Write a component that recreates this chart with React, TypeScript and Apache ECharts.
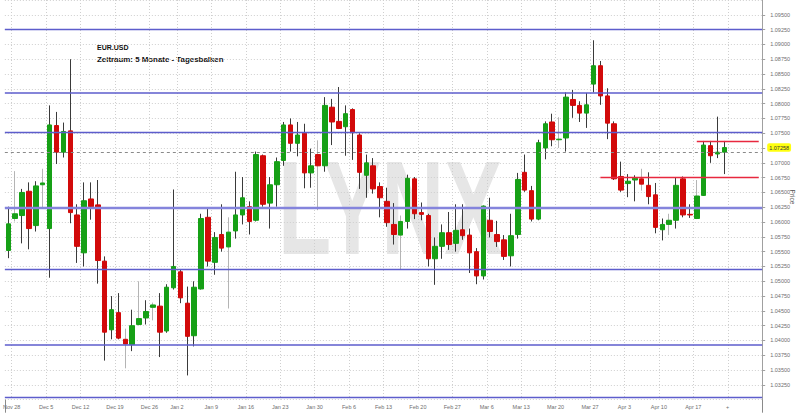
import React, { useEffect, useRef } from "react";
import * as echarts from "echarts";

// Trading days (daily bars) - last five are empty future slots
const tradingDays = [
  "2016-11-25",
  "2016-11-28", "2016-11-29", "2016-11-30", "2016-12-01", "2016-12-02",
  "2016-12-05", "2016-12-06", "2016-12-07", "2016-12-08", "2016-12-09",
  "2016-12-12", "2016-12-13", "2016-12-14", "2016-12-15", "2016-12-16",
  "2016-12-19", "2016-12-20", "2016-12-21", "2016-12-22", "2016-12-23",
  "2016-12-27", "2016-12-28", "2016-12-29", "2016-12-30",
  "2017-01-02", "2017-01-03", "2017-01-04", "2017-01-05", "2017-01-06",
  "2017-01-09", "2017-01-10", "2017-01-11", "2017-01-12", "2017-01-13",
  "2017-01-16", "2017-01-17", "2017-01-18", "2017-01-19", "2017-01-20",
  "2017-01-23", "2017-01-24", "2017-01-25", "2017-01-26", "2017-01-27",
  "2017-01-30", "2017-01-31", "2017-02-01", "2017-02-02", "2017-02-03",
  "2017-02-06", "2017-02-07", "2017-02-08", "2017-02-09", "2017-02-10",
  "2017-02-13", "2017-02-14", "2017-02-15", "2017-02-16", "2017-02-17",
  "2017-02-20", "2017-02-21", "2017-02-22", "2017-02-23", "2017-02-24",
  "2017-02-27", "2017-02-28", "2017-03-01", "2017-03-02", "2017-03-03",
  "2017-03-06", "2017-03-07", "2017-03-08", "2017-03-09", "2017-03-10",
  "2017-03-13", "2017-03-14", "2017-03-15", "2017-03-16", "2017-03-17",
  "2017-03-20", "2017-03-21", "2017-03-22", "2017-03-23", "2017-03-24",
  "2017-03-27", "2017-03-28", "2017-03-29", "2017-03-30", "2017-03-31",
  "2017-04-03", "2017-04-04", "2017-04-05", "2017-04-06", "2017-04-07",
  "2017-04-10", "2017-04-11", "2017-04-12", "2017-04-13", "2017-04-14",
  "2017-04-17", "2017-04-18", "2017-04-19", "2017-04-20", "2017-04-21",
  "2017-04-24", "2017-04-25", "2017-04-26", "2017-04-27", "2017-04-28",
];

const opens = [
  1.0552, 1.0606, 1.0611, 1.0652, 1.0594, 1.0663, 1.0589, 1.0763, 1.0718, 1.0754,
  1.0612, 1.0548, 1.0639, 1.0629, 1.0534, 1.0418, 1.0447, 1.0402, 1.0393, 1.0427,
  1.0438, 1.0456, 1.0458, 1.0416, 1.0489, 1.0516, 1.0463, 1.0408, 1.0487, 1.0608,
  1.0532, 1.0579, 1.0558, 1.0585, 1.0612, 1.0626, 1.0603, 1.0712, 1.0632, 1.0663,
  1.0704, 1.0764, 1.0733, 1.075, 1.0683, 1.0714, 1.0695, 1.0794, 1.077, 1.0761,
  1.079, 1.0747, 1.0679, 1.0695, 1.066, 1.0635, 1.0596, 1.0578, 1.0601, 1.0673,
  1.0616, 1.0611, 1.0538, 1.0559, 1.0582, 1.0564, 1.0587, 1.0578, 1.055, 1.0509,
  1.0603, 1.0579, 1.057, 1.0543, 1.0579, 1.0684, 1.0653, 1.0605, 1.0725, 1.0769,
  1.0739, 1.0742, 1.0807, 1.0797, 1.0784, 1.0833, 1.0864, 1.0813, 1.0766, 1.0677,
  1.0665, 1.0671, 1.0673, 1.0662, 1.0646, 1.0587, 1.0596, 1.0603, 1.0673, 1.0613,
  1.0606, 1.0645, 1.0729, 1.0715, 1.0718,
];
const highs = [
  1.0626, 1.0686, 1.0656, 1.0667, 1.0669, 1.069, 1.0797, 1.0786, 1.0768, 1.0875,
  1.063, 1.0667, 1.0667, 1.0671, 1.0542, 1.0475, 1.048, 1.042, 1.0452, 1.05,
  1.0468, 1.0464, 1.048, 1.0495, 1.0655, 1.0519, 1.0491, 1.05, 1.0614, 1.0624,
  1.0583, 1.063, 1.0608, 1.0685, 1.0676, 1.0635, 1.0719, 1.0714, 1.0676, 1.0709,
  1.0769, 1.0775, 1.0769, 1.0766, 1.0724, 1.0738, 1.0811, 1.0808, 1.0828, 1.0797,
  1.0792, 1.075, 1.0714, 1.0708, 1.0667, 1.0658, 1.0632, 1.0611, 1.068, 1.0676,
  1.0633, 1.0614, 1.0574, 1.0596, 1.0617, 1.063, 1.063, 1.0589, 1.0556, 1.0628,
  1.0641, 1.0602, 1.0578, 1.0614, 1.0683, 1.0714, 1.0661, 1.0739, 1.077, 1.0783,
  1.0777, 1.0819, 1.0823, 1.0804, 1.0818, 1.0907, 1.0872, 1.0826, 1.077, 1.0702,
  1.0681, 1.0679, 1.069, 1.0684, 1.0666, 1.0606, 1.0614, 1.0676, 1.0677, 1.063,
  1.0671, 1.0737, 1.0737, 1.0778, 1.0737,
];
const lows = [
  1.0539, 1.0601, 1.0564, 1.0554, 1.0584, 1.0623, 1.0506, 1.0698, 1.0709, 1.0598,
  1.0531, 1.0525, 1.0604, 1.0496, 1.0366, 1.0402, 1.0402, 1.0353, 1.0382, 1.0425,
  1.0427, 1.0434, 1.0372, 1.0413, 1.0486, 1.0463, 1.0341, 1.039, 1.0486, 1.0525,
  1.0511, 1.055, 1.0454, 1.0572, 1.0596, 1.0579, 1.0601, 1.0626, 1.0589, 1.0626,
  1.0695, 1.0719, 1.0711, 1.0657, 1.0658, 1.062, 1.0685, 1.073, 1.0757, 1.0712,
  1.0705, 1.0656, 1.0641, 1.0648, 1.0608, 1.0592, 1.0562, 1.052, 1.0589, 1.0605,
  1.0603, 1.0525, 1.0494, 1.0538, 1.0553, 1.055, 1.057, 1.0514, 1.0495, 1.0503,
  1.0574, 1.0558, 1.0536, 1.0525, 1.0572, 1.0651, 1.0601, 1.0603, 1.0706, 1.0728,
  1.0725, 1.0719, 1.0776, 1.0769, 1.0759, 1.0819, 1.0798, 1.074, 1.0671, 1.0651,
  1.0642, 1.0635, 1.0653, 1.063, 1.0581, 1.0569, 1.0578, 1.0589, 1.0608, 1.0607,
  1.0605, 1.0644, 1.07, 1.0708, 1.0681,
];
const closes = [
  1.0597, 1.0614, 1.065, 1.0589, 1.0661, 1.0666, 1.0764, 1.0718, 1.0753, 1.0616,
  1.0559, 1.0636, 1.0626, 1.0535, 1.0414, 1.0452, 1.0404, 1.0394, 1.0425, 1.0437,
  1.0449, 1.046, 1.0414, 1.049, 1.0525, 1.0472, 1.0407, 1.049, 1.0606, 1.0534,
  1.0574, 1.0556, 1.0583, 1.0612, 1.0641, 1.0601, 1.0714, 1.063, 1.0663, 1.0702,
  1.0764, 1.0733, 1.0747, 1.0683, 1.0695, 1.0695, 1.0797, 1.0769, 1.0758, 1.0783,
  1.0751, 1.0684, 1.07, 1.0656, 1.0641, 1.0599, 1.0579, 1.0601, 1.0674, 1.0614,
  1.0613, 1.0538, 1.0559, 1.0582, 1.0562, 1.0586, 1.0577, 1.0548, 1.0509, 1.0627,
  1.0584, 1.0567, 1.0542, 1.0577, 1.0672, 1.0654, 1.0605, 1.0734, 1.0766, 1.0739,
  1.074, 1.0811, 1.0797, 1.0784, 1.0798, 1.0864, 1.0813, 1.0767, 1.0673, 1.0654,
  1.0669, 1.0674, 1.0664, 1.0643, 1.0591, 1.0596, 1.0603, 1.0662, 1.0612, 1.0612,
  1.0644, 1.073, 1.0712, 1.0718, 1.07258,
];

// Drawn support / resistance levels
const blueLevels = [1.0925, 1.0819, 1.0751, 1.0624, 1.052, 1.0392, 1.0304];
const redLevels = [
  { from: 85.5, value: 1.0676 },
  { from: 100, value: 1.0737 },
];

const MONTHS = ["Jan", "Feb", "Mar", "Apr", "May", "Jun", "Jul", "Aug", "Sep", "Oct", "Nov", "Dec"];
const lightWicks = new Set([1, 5, 17, 19, 21, 32, 45, 57, 80, 92, 96, 100]);

function parseDay(s: string) {
  const [y, m, d] = s.split("-").map(Number);
  return new Date(Date.UTC(y, m - 1, d));
}
function isWeekStart(i: number) {
  if (i <= 0) return false;
  return parseDay(tradingDays[i]).getUTCDay() < parseDay(tradingDays[i - 1]).getUTCDay();
}
function weekLabel(i: number) {
  if (i >= opens.length) return "+";
  const d = parseDay(tradingDays[i]);
  const dow = d.getUTCDay();
  const mon = new Date(d.getTime() - (dow - 1) * 86400000);
  return MONTHS[mon.getUTCMonth()] + " " + mon.getUTCDate();
}

export default function App() {
  const ref = useRef<HTMLDivElement>(null);
  useEffect(() => {
    if (!ref.current) return;
    const chart = echarts.init(ref.current, undefined, { renderer: "svg" });
    const n = opens.length;
    const WICK = "#3a3a3a";
    const GREEN = "#16a016";
    const RED = "#d20a0a";

    const wickData = opens.map((o, i) => {
      const c = lightWicks.has(i) ? "#b4b4b4" : WICK;
      return {
        value: [o, closes[i], lows[i], highs[i]],
        itemStyle: { color: c, color0: c, borderColor: c, borderColor0: c },
      };
    });
    const bodyData = opens.map((o, i) => [
      o,
      closes[i],
      Math.min(o, closes[i]),
      Math.max(o, closes[i]),
    ]);

    const lastClose = closes[n - 1];
    const prevClose = closes[n - 2];
    const lastIdx = tradingDays.length - 1;
    const blueWidths = [1.3, 1.7, 1.3, 2.4, 1.3, 1.7, 1.3];

    const markData: any[] = [
      ...blueLevels.map((v, k) => ({
        yAxis: v,
        lineStyle: {
          color: k === 3 ? "#8484dc" : "#5d5dcc",
          width: blueWidths[k],
          type: "solid",
        },
      })),
      ...redLevels.map((r) => [
        { coord: [r.from, r.value], lineStyle: { color: "#e8283f", width: 1.3, type: "solid" } },
        { coord: [lastIdx, r.value] },
      ]),
      {
        yAxis: prevClose,
        lineStyle: { color: "#8a8a8a", width: 1, type: [3, 3] },
      },
      {
        yAxis: lastClose,
        lineStyle: { color: "rgba(0,0,0,0)", width: 0 },
        label: {
          show: true,
          position: "end",
          distance: 5,
          formatter: () => lastClose.toFixed(5),
          backgroundColor: "#ffff10",
          color: "#333",
          fontSize: 5.5,
          fontFamily: "Liberation Sans",
          padding: [1.5, 2, 1, 2],
          borderRadius: 2,
        },
      },
    ];

    const option: any = {
      animation: false,
      backgroundColor: "#ffffff",
      grid: { left: -1.77, right: 37.82, top: -3.95, bottom: 13.3, containLabel: false },
      xAxis: {
        type: "category",
        data: tradingDays,
        boundaryGap: true,
        axisLine: { show: false },
        axisTick: {
          show: true,
          interval: (i: number) => i === n,
          length: 13,
          lineStyle: { color: "#8a8a8a" },
        },
        axisLabel: {
          interval: (i: number) => isWeekStart(i),
          formatter: (_v: string, i: number) => weekLabel(i),
          fontSize: 5.5,
          color: "#6e6e6e",
          fontFamily: "Liberation Sans",
          margin: 4,
          padding: [0, 7, 0, 0],
        },
        splitLine: {
          show: true,
          interval: (i: number) => isWeekStart(i),
          lineStyle: { color: "#cfcfcf", type: [1, 2], width: 1 },
        },
      },
      yAxis: {
        type: "value",
        position: "right",
        min: 1.03,
        max: 1.0975,
        interval: 0.0025,
        axisLine: { show: true, lineStyle: { color: "#a0a0a0" } },
        axisTick: { show: true, length: 3, lineStyle: { color: "#a0a0a0" } },
        axisLabel: {
          fontSize: 5.5,
          color: "#6e6e6e",
          fontFamily: "Liberation Sans",
          margin: 8,
          showMinLabel: false,
          showMaxLabel: false,
          formatter: (v: number) => (Math.abs(v - 1.0725) < 1e-6 ? "" : v.toFixed(5)),
        },
        splitLine: { show: true, lineStyle: { color: "#cfcfcf", type: [1, 2], width: 1 } },
      },
      graphic: [
        {
          type: "text",
          z: -10,
          x: 278,
          y: 208,
          scaleX: 0.65,
          silent: true,
          style: {
            text: "LYNX",
            font: 'bold 134px "Liberation Sans"',
            fill: "#e6e6e6",
            align: "left",
            verticalAlign: "middle",
            textAlign: "left",
            textVerticalAlign: "middle",
          },
        },
        {
          type: "text",
          x: 97,
          y: 47.5,
          style: {
            text: "EUR.USD",
            font: 'bold 7px "Liberation Sans"',
            fill: "#111",
            align: "left",
            verticalAlign: "middle",
            textAlign: "left",
            textVerticalAlign: "middle",
          },
        },
        {
          type: "text",
          x: 97,
          y: 59,
          style: {
            text: "Zeitraum: 5 Monate - Tagesbalken",
            font: 'bold 7.9px "Liberation Sans"',
            fill: "#111",
            align: "left",
            verticalAlign: "middle",
            textAlign: "left",
            textVerticalAlign: "middle",
          },
        },
        {
          type: "text",
          x: 792,
          y: 197,
          rotation: -Math.PI / 2,
          style: {
            text: "Price",
            font: '6.5px "Liberation Sans"',
            fill: "#555",
            align: "center",
            verticalAlign: "middle",
            textAlign: "center",
            textVerticalAlign: "middle",
          },
        },
      ],
      series: [
        {
          name: "wick",
          type: "candlestick",
          barWidth: 1,
          data: wickData,
          itemStyle: { color: WICK, color0: WICK, borderColor: WICK, borderColor0: WICK, borderWidth: 1 },
          silent: true,
        },
        {
          name: "EUR.USD",
          type: "candlestick",
          barWidth: 5,
          data: bodyData,
          itemStyle: { color: GREEN, color0: RED, borderColor: GREEN, borderColor0: RED, borderWidth: 1 },
          markLine: {
            silent: true,
            symbol: "none",
            precision: 6,
            label: { show: false },
            data: markData,
          },
        },
      ],
    };
    chart.setOption(option);
    return () => chart.dispose();
  }, []);
  return (
    <div
      ref={ref}
      style={{ position: "absolute", left: 0, top: 0, width: 800, height: 413, background: "#fff" }}
    />
  );
}
